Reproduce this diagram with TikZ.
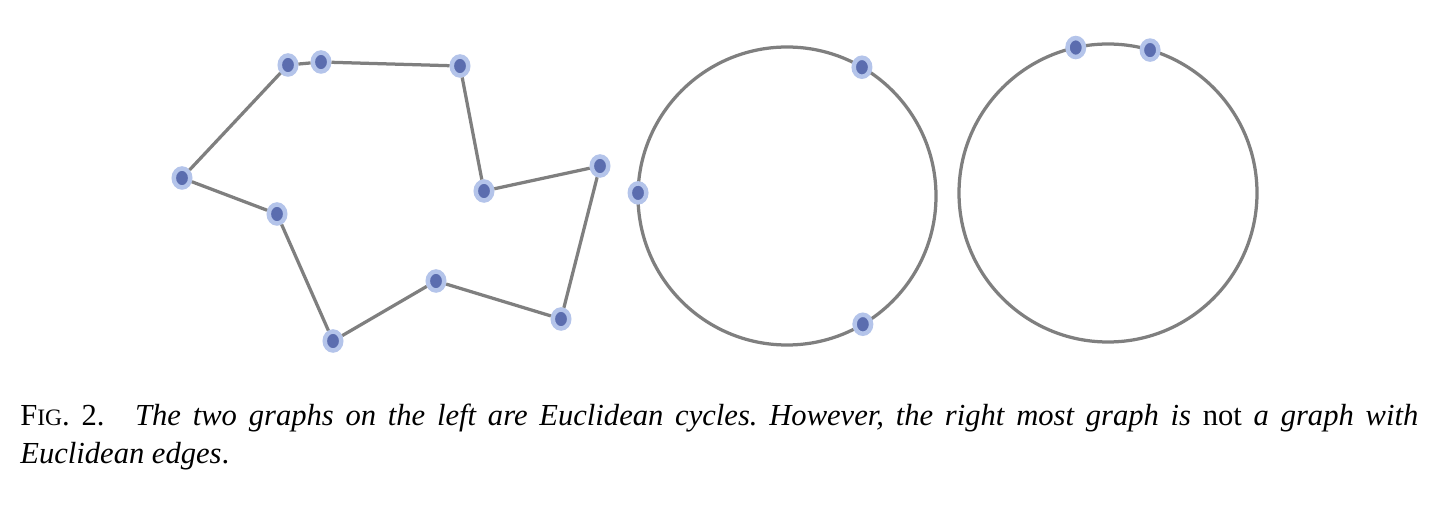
\documentclass[tikz,border=0pt]{standalone}
\usepackage{fontspec}
\setmainfont{Liberation Serif}
\usepackage{tikz}
\usetikzlibrary{shapes.geometric}
\usepackage{xcolor}
\frenchspacing
\hyphenpenalty=10000

\definecolor{nodeDark}{HTML}{5B6DAF}
\definecolor{nodeLight}{HTML}{B4C4EA}
\definecolor{edgeGray}{HTML}{7F7F7F}

\begin{document}
\begin{tikzpicture}[
vtx/.style={ellipse, 
draw=nodeLight, 
line width=0.09cm, 
fill=nodeDark, 
minimum width=0.33cm, 
minimum height=0.38cm, 
inner sep=0pt}, 
edge/.style={draw=edgeGray, line width=0.065cm}, 
caption/.style={anchor=north west, 
inner sep=0pt, 
text width=27.96cm, 
align=justify, 
font=\fontsize{17.4}{21.8}\selectfont} 
]
\useasboundingbox (0,0) rectangle (29.04,10.16);

% left graph: a polygon cycle
\node[vtx] (p1) at (5.76,8.86) {};
\node[vtx] (p2) at (6.42,8.92) {};
\node[vtx] (p3) at (9.20,8.84) {};
\node[vtx] (p4) at (9.68,6.34) {};
\node[vtx] (p5) at (12.00,6.84) {};
\node[vtx] (p6) at (11.22,3.78) {};
\node[vtx] (p7) at (8.72,4.54) {};
\node[vtx] (p8) at (6.66,3.34) {};
\node[vtx] (p9) at (5.54,5.88) {};
\node[vtx] (p10) at (3.64,6.60) {};

\draw[edge] (p1) -- (p2);
\draw[edge] (p2) -- (p3);
\draw[edge] (p3) -- (p4);
\draw[edge] (p4) -- (p5);
\draw[edge] (p5) -- (p6);
\draw[edge] (p6) -- (p7);
\draw[edge] (p7) -- (p8);
\draw[edge] (p8) -- (p9);
\draw[edge] (p9) -- (p10);
\draw[edge] (p10) -- (p1);

% middle graph
\coordinate (cA) at (15.74,6.24);
\draw[edge] (cA) circle (2.98);
\node[vtx] (a1) at ([shift={(59.8:2.98)}]cA) {};
\node[vtx] (a2) at ([shift={(178.8:2.98)}]cA) {};
\node[vtx] (a3) at ([shift={(-59.4:2.98)}]cA) {};

% right graph
\coordinate (cB) at (22.16,6.30);
\draw[edge] (cB) circle (2.98);
\node[vtx] (b1) at ([shift={(102.5:2.98)}]cB) {};
\node[vtx] (b2) at ([shift={(73.6:2.98)}]cB) {};

% caption
\node[caption] (cap) at (0.40,2.09) {F{\fontsize{13.4}{21.8}\selectfont IG}. 2.\quad \textit{The two graphs on the left are Euclidean cycles. However, the right most graph is} not \textit{a graph with Euclidean edges}.};

\end{tikzpicture}
\end{document}
